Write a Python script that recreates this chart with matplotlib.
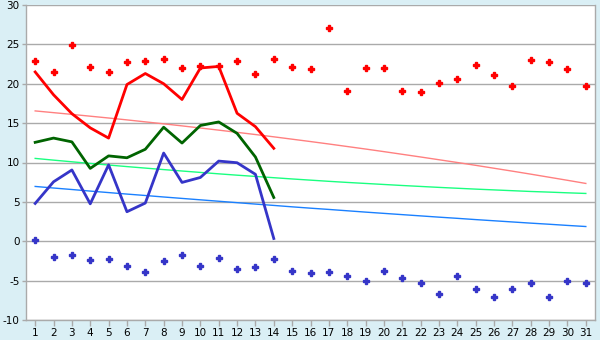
import matplotlib
matplotlib.use("Agg")
import matplotlib.pyplot as plt

days = list(range(1, 32))

max_points = [22.9, 21.5, 24.9, 22.1, 21.5, 22.7, 22.9, 23.1, 22.0, 22.3, 22.3,
              22.9, 21.2, 23.1, 22.1, 21.85, 27.1, 19.05, 22.0, 22.0, 19.05,
              18.9, 20.1, 20.6, 22.4, 21.1, 19.7, 23.0, 22.7, 21.85, 19.7]
min_points = [0.2, -1.95, -1.7, -2.33, -2.2, -3.1, -3.86, -2.46, -1.7, -3.1, -2.08,
              -3.48, -3.22, -2.2, -3.73, -3.99, -3.86, -4.37, -5.0, -3.73, -4.63,
              -5.26, -6.66, -4.37, -6.02, -7.04, -6.02, -5.26, -7.04, -5.0, -5.26]

max_line = [21.5, 18.6, 16.2, 14.4, 13.1, 19.9, 21.3, 20.0, 18.0, 22.0, 22.2,
            16.25, 14.55, 11.8]
mean_line = [12.56, 13.1, 12.62, 9.25, 10.84, 10.6, 11.68, 14.48, 12.47, 14.7,
             15.15, 13.7, 10.7, 5.56]
min_line = [4.8, 7.55, 9.05, 4.75, 9.7, 3.75, 4.85, 11.2, 7.47, 8.1, 10.18,
            9.97, 8.5, 0.35]

max_normal = [16.55, 16.33, 16.11, 15.88, 15.65, 15.41, 15.16, 14.91, 14.65, 14.38,
              14.11, 13.83, 13.55, 13.26, 12.96, 12.66, 12.35, 12.03, 11.71, 11.38,
              11.04, 10.70, 10.35, 10.00, 9.64, 9.27, 8.90, 8.52, 8.13, 7.74, 7.34]
mean_normal = [10.52, 10.30, 10.09, 9.88, 9.68, 9.48, 9.29, 9.10, 8.92, 8.74,
               8.56, 8.39, 8.23, 8.07, 7.91, 7.76, 7.61, 7.47, 7.34, 7.21,
               7.08, 6.96, 6.84, 6.73, 6.62, 6.52, 6.42, 6.32, 6.24, 6.15, 6.07]
min_normal = [6.96, 6.76, 6.57, 6.37, 6.18, 5.99, 5.81, 5.62, 5.44, 5.26,
              5.08, 4.90, 4.72, 4.55, 4.37, 4.20, 4.04, 3.87, 3.70, 3.54,
              3.38, 3.22, 3.06, 2.91, 2.75, 2.60, 2.45, 2.30, 2.16, 2.01, 1.87]

y_ticks = [-10, -5, 0, 5, 10, 15, 20, 25, 30]

bg = "#daeff5"
fig = plt.figure(figsize=(6, 3.4), dpi=100, facecolor=bg)
ax = fig.add_axes([26 / 600, 20 / 340, 569 / 600, 315 / 340])
ax.set_facecolor("white")

ax.plot(days, max_normal, color="#ff8080", lw=1.0, zorder=2)
ax.plot(days, mean_normal, color="#1aff80", lw=1.0, zorder=2)
ax.plot(days, min_normal, color="#1a80ff", lw=1.0, zorder=2)

n = len(max_line)
ax.plot(days[:n], max_line, color="#ff0000", lw=2.0, zorder=3)
ax.plot(days[:n], mean_line, color="#006400", lw=2.0, zorder=3)
ax.plot(days[:n], min_line, color="#3535c8", lw=2.0, zorder=3)

ax.plot(days, max_points, ls="none", marker="P", ms=4.5, color="#ff0000",
        mec="#ff0000", zorder=4)
ax.plot(days, min_points, ls="none", marker="P", ms=4.5, color="#3535c8",
        mec="#3535c8", zorder=4)

ax.set_xlim(0.5, 31.5)
ax.set_ylim(-10, 30)
ax.set_yticks(y_ticks)
ax.set_yticklabels([str(v) for v in y_ticks])
ax.set_xticks(days)
ax.set_xticklabels([str(d) for d in days])
ax.yaxis.grid(True, color="#aaaaaa", lw=1.0)
ax.set_axisbelow(True)
for s in ["left", "bottom", "right"]:
    ax.spines[s].set_color("#aaaaaa")
    ax.spines[s].set_linewidth(1.0)
ax.spines["top"].set_visible(False)
ax.tick_params(axis="both", colors="#aaaaaa", labelcolor="black",
               labelsize=7.5, width=1)
ax.tick_params(axis="y", length=3, pad=1.5)
ax.tick_params(axis="x", length=4, pad=2)

fig.savefig("out.png", dpi=100, facecolor=bg)
